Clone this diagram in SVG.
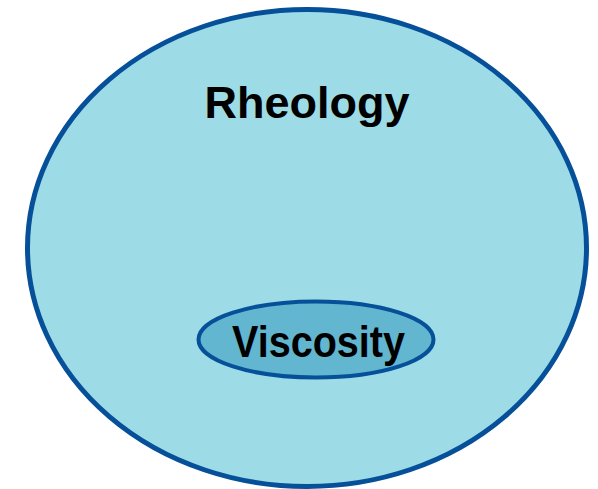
<svg xmlns="http://www.w3.org/2000/svg" width="598" height="489" viewBox="0 0 598 489">
<style>
.e{stroke:#06509A;}
.t{font-family:"Liberation Sans",Arial,sans-serif;font-weight:bold;fill:#000;text-anchor:middle;}
</style>
<rect width="598" height="489" fill="#fff"/>
<g id="rheology">
<ellipse class="e" cx="307" cy="248" rx="279.5" ry="238.5" fill="#9DDCE6" stroke-width="5"/>
<text class="t" x="307" y="118" font-size="45" textLength="205" lengthAdjust="spacingAndGlyphs">Rheology</text>
</g>
<g id="viscosity">
<ellipse class="e" cx="316" cy="339.5" rx="117.5" ry="38" fill="#62B6CF" stroke-width="4"/>
<text class="t" x="318.5" y="357" font-size="44" textLength="173" lengthAdjust="spacingAndGlyphs">Viscosity</text>
</g>
<g id="connectors"/>
</svg>
